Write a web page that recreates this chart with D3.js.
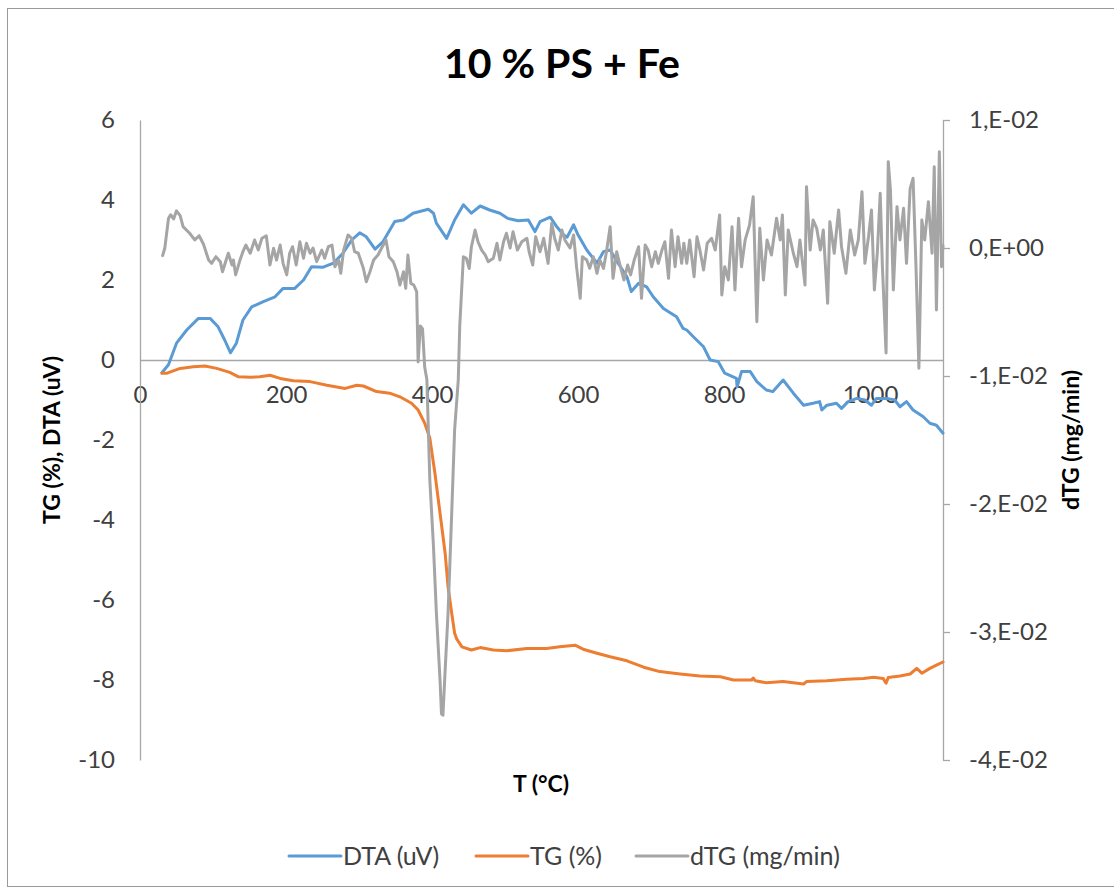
<!DOCTYPE html>
<html>
<head>
<meta charset="utf-8">
<script src="https://cdn.jsdelivr.net/npm/d3@7/dist/d3.min.js"></script>
<style>
  html, body { margin: 0; padding: 0; background: #fff; }
  svg { display: block; font-family: Lato, "Open Sans", sans-serif; }
</style>
</head>
<body>
<svg id="chart" width="1114" height="890"></svg>
<script>
// Thermal analysis of 10 % PS + Fe: DTA and TG on the left axis, dTG on the right axis.
// Each series is a list of [temperature °C, value] pairs.
const dta = [
  [30,-0.32],[39,-0.12],[50,0.42],[64,0.75],[80,1.04],[96,1.04],[107,0.83],[116,0.5],[124,0.18],
  [132,0.42],[141,1.0],[153,1.33],[169,1.46],[185,1.58],[196,1.79],[212,1.79],[224,2.0],[235,2.33],
  [251,2.32],[265,2.42],[278,2.67],[290,3.0],[301,3.18],[310,3.08],[322,2.77],[333,2.96],[349,3.46],
  [361,3.5],[374,3.67],[395,3.77],[402,3.67],[406,3.42],[420,3.04],[431,3.5],[443,3.88],[454,3.67],
  [466,3.85],[479,3.75],[493,3.67],[504,3.54],[518,3.48],[532,3.5],[541,3.21],[548,3.46],[562,3.57],
  [571,3.33],[580,3.13],[585,3.07],[594,3.38],[600,3.13],[612,2.75],[626,2.42],[635,2.71],[644,2.75],
  [655,2.42],[667,2.08],[673,1.71],[683,1.92],[694,1.83],[703,1.58],[717,1.29],[735,1.08],[744,0.79],
  [749,0.75],[758,0.58],[772,0.33],[781,0],[792,-0.04],[801,-0.33],[817,-0.46],[818,-0.67],[824,-0.29],
  [836,-0.29],[845,-0.54],[858,-0.75],[867,-0.79],[881,-0.5],[895,-0.83],[909,-1.13],[922,-1.08],
  [931,-1.04],[934,-1.25],[941,-1.13],[954,-1.08],[961,-1.21],[970,-1.04],[982,-0.96],[993,-1.0],
  [1002,-1.13],[1009,-0.96],[1023,-0.96],[1034,-1.0],[1041,-1.17],[1050,-1.04],[1059,-1.25],
  [1073,-1.42],[1082,-1.58],[1091,-1.63],[1100,-1.83]
];

const tg = [
  [30,-0.33],[37,-0.33],[55,-0.21],[73,-0.17],[89,-0.15],[105,-0.21],[123,-0.31],[135,-0.42],
  [151,-0.43],[164,-0.42],[178,-0.38],[192,-0.46],[210,-0.52],[233,-0.54],[256,-0.63],[281,-0.71],
  [297,-0.63],[306,-0.65],[324,-0.79],[342,-0.83],[356,-0.92],[372,-1.08],[381,-1.25],[390,-1.58],
  [397,-1.95],[404,-2.83],[411,-3.83],[418,-4.83],[422,-5.67],[427,-6.33],[431,-6.83],[434,-6.98],
  [441,-7.17],[454,-7.25],[466,-7.19],[484,-7.25],[502,-7.27],[530,-7.21],[557,-7.21],[575,-7.17],
  [596,-7.13],[607,-7.23],[626,-7.33],[644,-7.42],[667,-7.52],[690,-7.68],[712,-7.79],[740,-7.85],
  [767,-7.9],[795,-7.92],[813,-8.0],[838,-8.0],[840,-7.95],[843,-8.02],[858,-8.07],[881,-8.04],
  [909,-8.1],[913,-8.04],[941,-8.02],[968,-7.98],[991,-7.96],[1005,-7.93],[1018,-7.96],[1022,-8.08],
  [1025,-7.94],[1041,-7.9],[1055,-7.85],[1064,-7.71],[1071,-7.83],[1082,-7.71],[1091,-7.63],[1100,-7.55]
];

const dtg = [
  [31,-0.0006],[34,0],[39,0.0023],[42,0.0026],[46,0.00227],[50,0.0029],[55,0.00253],[59,0.00167],
  [68,0.00115],[75,0.00063],[81,0.00096],[87,0.00029],[94,-0.00094],[98,-0.0012],[104,-0.00068],
  [110,-0.00107],[113,-0.00185],[118,-0.00094],[121,-0.00041],[126,-0.00133],[128,-0.00094],
  [131,-0.0021],[137,-0.00094],[141,-0.00029],[145,0.00023],[151,-0.00041],[157,0.00063],
  [162,-0.00016],[167,0.00076],[173,0.00096],[178,-0.00133],[183,-0.00002],[187,-0.00094],
  [192,0.00023],[196,-0.0012],[201,-0.0021],[205,-0.00041],[209,0.0001],[214,-0.00133],[219,0.00049],
  [224,-0.0008],[228,0.00037],[233,-0.00041],[237,0],[242,-0.00107],[249,-0.00016],[253,-0.0008],
  [258,0.0001],[263,0.00023],[267,-0.00146],[272,-0.00094],[275,-0.00198],[279,-0.00016],[285,0.00102],
  [290,0.00076],[294,-0.00029],[299,-0.00041],[306,-0.00159],[310,-0.00263],[315,-0.00185],
  [320,-0.00094],[326,-0.00055],[331,0],[337,0.00063],[341,-0.00068],[347,-0.00107],[352,-0.00185],
  [356,-0.00289],[361,-0.00185],[364,-0.00315],[367,-0.00055],[371,-0.00276],[375,-0.00289],
  [379,-0.00341],[381,-0.0089],[384,-0.0061],[387,-0.0063],[390,-0.0093],[393,-0.0103],[397,-0.0181],
  [402,-0.0233],[406,-0.0285],[411,-0.03375],[413,-0.0364],[415,-0.0365],[418,-0.033],[422,-0.0285],
  [427,-0.0207],[431,-0.0142],[436,-0.0103],[438,-0.0061],[443,-0.00068],[447,-0.0008],[451,-0.0016],
  [454,0.0001],[459,0.0014],[463,0.00049],[468,-0.00016],[473,-0.00055],[477,-0.00107],[484,-0.0008],
  [489,0.00037],[493,-0.00094],[498,0.00049],[502,0.00115],[507,0],[511,0.00127],[517,-0.00016],
  [523,0.00049],[530,0.00076],[533,-0.00029],[538,-0.00133],[542,0.00088],[548,-0.00029],[553,0.00076],
  [559,-0.0012],[564,0.00193],[568,0.00076],[573,-0.00016],[578,0.0014],[582,0.00063],[589,0],
  [594,0.00102],[598,-0.00146],[603,-0.00393],[606,-0.00068],[612,-0.00094],[616,-0.00159],
  [621,-0.00068],[626,-0.00198],[630,-0.00094],[635,-0.00159],[639,-0.00029],[644,0.00166],
  [648,-0.00237],[653,-0.00029],[658,-0.00146],[663,-0.0025],[668,-0.00133],[672,-0.0021],
  [677,-0.00094],[683,0.0001],[687,-0.00393],[692,0.00023],[696,-0.00016],[701,-0.00146],
  [706,-0.00029],[710,-0.0012],[715,-0.00016],[719,0.00049],[724,-0.00237],[728,0.0014],[733,-0.00146],
  [737,0.00088],[742,-0.0012],[745,0.00037],[749,-0.0012],[753,0.00063],[759,-0.00224],[763,0.00088],
  [767,-0.00016],[772,-0.00172],[777,0.00037],[783,0.00076],[788,-0.00016],[794,0.00258],[797,-0.00367],
  [801,-0.00146],[806,-0.0025],[811,0.00166],[815,-0.00328],[820,0.00232],[824,-0.00146],[829,0.00063],
  [835,0.0018],[840,0.004],[845,-0.00576],[849,0.00154],[854,-0.0025],[859,0.00063],[865,-0.00055],
  [872,0.00232],[877,0.00063],[880,0.00258],[884,-0.00367],[888,0.0014],[895,-0.00041],[900,-0.00146],
  [904,0.00063],[911,-0.00289],[913,0.00479],[918,-0.00016],[922,0.00219],[927,0.00154],[932,-0.00016],
  [936,0.0014],[942,-0.00432],[945,0.00206],[951,-0.00041],[957,0.00297],[961,0.0001],[967,-0.00198],
  [973,0.0014],[979,-0.00055],[984,0.00063],[989,0.0044],[993,-0.0012],[998,0.00088],[1002,0.00297],
  [1006,-0.00328],[1010,-0.00041],[1014,0.00427],[1017,-0.00146],[1022,-0.0082],[1025,0.00674],
  [1028,0.00453],[1032,-0.00328],[1037,0.00323],[1041,0.00063],[1046,0.0031],[1050,-0.0012],
  [1055,0.00466],[1059,0.00544],[1063,-0.00146],[1067,-0.0094],[1071,0.00219],[1075,0.00063],
  [1080,0.00362],[1085,-0.00041],[1088,0.00635],[1091,-0.00484],[1095,0.00752],[1098,-0.00146],[1100,0.0002]
];

// Axis ticks and labels
const xTicks = [0, 200, 400, 600, 800, 1000];
const leftTicks = [-10, -8, -6, -4, -2, 0, 2, 4, 6];
const rightTicks = [0.01, 0, -0.01, -0.02, -0.03, -0.04];
const rightTickLabels = ["1,E-02", "0,E+00", "-1,E-02", "-2,E-02", "-3,E-02", "-4,E-02"];

const seriesNames = ["DTA (uV)", "TG (%)", "dTG (mg/min)"];
const seriesColors = ["#5b9bd5", "#ed7d31", "#a5a5a5"];

const svg = d3.select("#chart");
const W = 1114;
const plot = { left: 140, right: 943, top: 120, bottom: 760 };
const axisColor = "#a6a6a6";
const textColor = "#404040";
const plainNumber = d => String(d);   // hyphen-minus, no thousands separator

// Chart frame
svg.append("rect")
  .attr("x", 7.5).attr("y", 8.5)
  .attr("width", W + 10).attr("height", 878)
  .attr("fill", "#fff").attr("stroke", "#9a9a9a").attr("stroke-width", 1);

const x = d3.scaleLinear().domain([0, 1100]).range([plot.left, plot.right]);
const yL = d3.scaleLinear().domain([-10, 6]).range([plot.bottom, plot.top]);
const yR = d3.scaleLinear().domain([-0.04, 0.01]).range([plot.bottom, plot.top]);

function styleAxis(g) {
  g.select(".domain").attr("stroke", axisColor).attr("stroke-width", 1.3);
  g.selectAll(".tick line").attr("stroke", axisColor).attr("stroke-width", 1.3);
  g.selectAll(".tick text").attr("fill", textColor).style("font-size", "24px")
    .style("font-family", "Lato, 'Open Sans', sans-serif");
}

// Horizontal axis crossing at value 0 on the left scale
const gx = svg.append("g")
  .attr("transform", `translate(0,${yL(0)})`)
  .call(d3.axisBottom(x).tickValues(xTicks).tickFormat(plainNumber)
    .tickSize(0).tickPadding(26).tickSizeOuter(0));
styleAxis(gx);

// Left axis
const gl = svg.append("g")
  .attr("transform", `translate(${plot.left},0)`)
  .call(d3.axisLeft(yL).tickValues(leftTicks).tickFormat(plainNumber)
    .tickSize(0).tickPadding(25).tickSizeOuter(0));
styleAxis(gl);

// Right axis
const gr = svg.append("g")
  .attr("transform", `translate(${plot.right},0)`)
  .call(d3.axisRight(yR).tickValues(rightTicks).tickFormat((d, i) => rightTickLabels[i])
    .tickSize(7).tickPadding(19).tickSizeOuter(0));
styleAxis(gr);

// Series lines, drawn DTA, TG, then dTG on top
const lineL = d3.line().x(d => x(d[0])).y(d => yL(d[1]));
const lineR = d3.line().x(d => x(d[0])).y(d => yR(d[1]));

[
  { data: dta, line: lineL, color: seriesColors[0] },
  { data: tg, line: lineL, color: seriesColors[1] },
  { data: dtg, line: lineR, color: seriesColors[2] }
].forEach(s => {
  svg.append("path")
    .datum(s.data)
    .attr("d", s.line)
    .attr("fill", "none")
    .attr("stroke", s.color)
    .attr("stroke-width", 3)
    .attr("stroke-linejoin", "round")
    .attr("stroke-linecap", "round");
});

// Title
svg.append("text")
  .attr("x", 562).attr("y", 78)
  .attr("text-anchor", "middle")
  .style("font-size", "41px").style("font-weight", "bold").attr("fill", "#000")
  .text("10 % PS + Fe");

// Axis titles
svg.append("text")
  .attr("x", 541).attr("y", 792)
  .attr("text-anchor", "middle")
  .style("font-size", "23px").style("font-weight", "bold").attr("fill", "#000")
  .text("T (°C)");

svg.append("text")
  .attr("transform", `translate(60,${(plot.top + plot.bottom) / 2}) rotate(-90)`)
  .attr("text-anchor", "middle")
  .style("font-size", "23px").style("font-weight", "bold").attr("fill", "#000")
  .text("TG (%), DTA (uV)");

svg.append("text")
  .attr("transform", `translate(1079,${(plot.top + plot.bottom) / 2}) rotate(-90)`)
  .attr("text-anchor", "middle")
  .style("font-size", "23px").style("font-weight", "bold").attr("fill", "#000")
  .text("dTG (mg/min)");

// Legend
const legendX = [289, 476, 636];
const legend = svg.append("g");
seriesNames.forEach((name, i) => {
  const g = legend.append("g").attr("transform", `translate(${legendX[i]},856)`);
  g.append("line").attr("x1", 0).attr("x2", 52).attr("y1", 0).attr("y2", 0)
    .attr("stroke", seriesColors[i]).attr("stroke-width", 3).attr("stroke-linecap", "round");
  g.append("text").attr("x", 54).attr("y", 0).attr("dy", "0.35em")
    .style("font-size", "25px").attr("fill", textColor).text(name);
});
</script>
</body>
</html>
